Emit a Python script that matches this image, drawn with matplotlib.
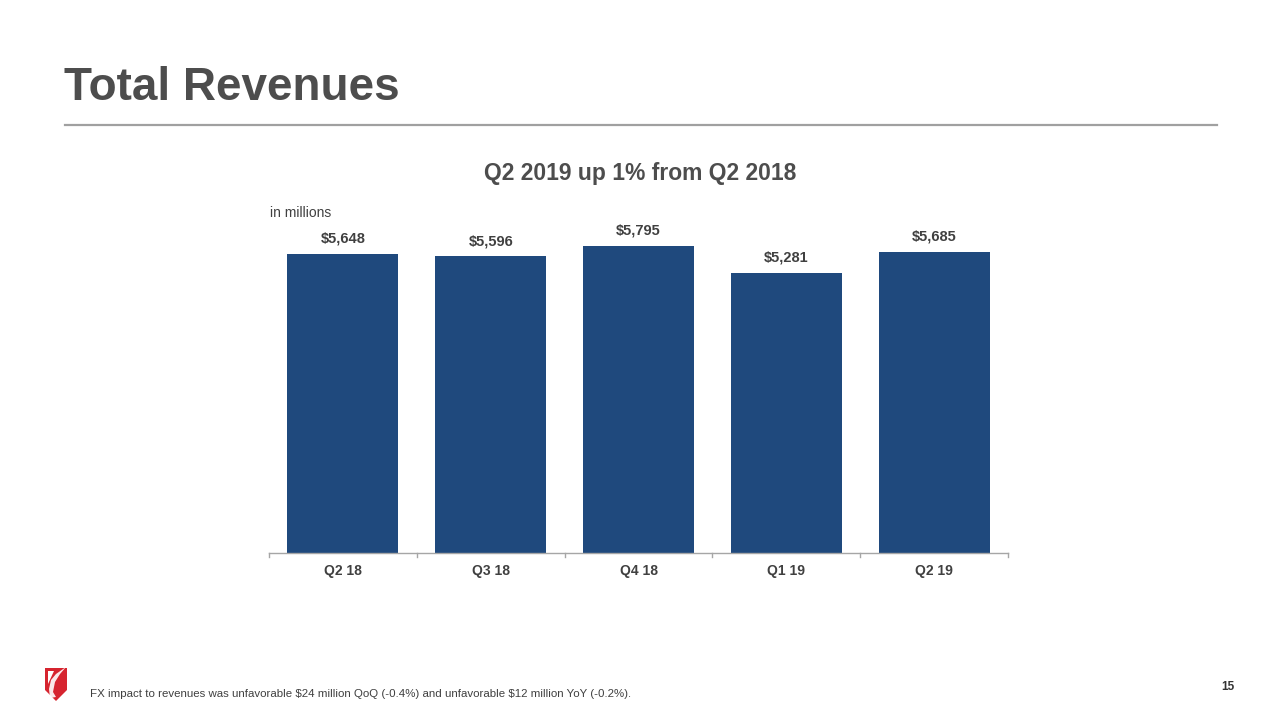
import matplotlib
matplotlib.use("Agg")
import matplotlib.pyplot as plt
from matplotlib.patches import Polygon

FONT = "Liberation Sans"
plt.rcParams['font.family'] = 'sans-serif'
plt.rcParams['font.sans-serif'] = [FONT, 'DejaVu Sans']
plt.rcParams['text.parse_math'] = False

categories = ["Q2 18", "Q3 18", "Q4 18", "Q1 19", "Q2 19"]
revenues = [5648, 5596, 5795, 5281, 5685]
labels = ["$5,648", "$5,596", "$5,795", "$5,281", "$5,685"]

W, H = 1280, 720
fig = plt.figure(figsize=(12.8, 7.2), dpi=100)
fig.patch.set_facecolor("white")

def fx(px):
    return px / W

def fy(py):
    return 1 - py / H

# Title and rule
fig.text(fx(64), fy(100), "Total Revenues", fontsize=33, fontweight="bold",
         family=FONT, color="#4d4d4d", ha="left", va="baseline")
fig.add_artist(plt.Line2D([fx(65), fx(1217)], [fy(125), fy(125)],
                          color="#a0a0a0", linewidth=1.6))

# Subtitle
fig.text(fx(640), fy(180), "Q2 2019 up 1% from Q2 2018", fontsize=16.5,
         fontweight="bold", family=FONT, color="#4d4d4d", ha="center", va="baseline")

# Chart axes
left, right, bottom, top = 269, 1008, 553, 235
ax = fig.add_axes([fx(left), fy(bottom), fx(right - left), (bottom - top) / H])
x = list(range(len(categories)))
bars = ax.bar(x, revenues, width=0.75, color="#1f497d", zorder=2)
ax.set_xlim(-0.5, len(categories) - 0.5)
ax.set_ylim(0, 6000)
for xi, v, lab in zip(x, revenues, labels):
    ax.annotate(lab, (xi, v), xytext=(0, 11), textcoords="offset points",
                ha="center", va="center", fontsize=10.5, fontweight="bold",
                family=FONT, color="#404040")
for s in ["top", "right", "left"]:
    ax.spines[s].set_visible(False)
ax.spines["bottom"].set_color("#a6a6a6")
ax.spines["bottom"].set_linewidth(1)
ax.set_yticks([])
ax.set_xticks(x)
ax.set_xticklabels(categories, fontsize=10, fontweight="bold", family=FONT,
                   color="#404040")
ax.tick_params(axis="x", length=0, pad=8)
# boundary tick marks
for b in [i - 0.5 for i in range(len(categories) + 1)]:
    ax.plot([b, b], [0, -0.012], transform=ax.get_xaxis_transform(),
            color="#a6a6a6", linewidth=1, clip_on=False)
ax.patch.set_alpha(0)

fig.text(fx(270), fy(217), "in millions", fontsize=10, family=FONT,
         color="#404040", ha="left", va="baseline")

# Footer
fig.text(fx(90), fy(697), "FX impact to revenues was unfavorable $24 million QoQ (-0.4%) and unfavorable $12 million YoY (-0.2%).",
         fontsize=8.25, family=FONT, color="#404040", ha="left", va="baseline")
fig.text(fx(1235), fy(690), "15", fontsize=8.5, fontweight="bold", family=FONT,
         color="#333333", ha="right", va="baseline")

# Logo (shield + leaf)
shield = [(45, 668), (67, 668), (67, 690), (56, 701), (45, 690)]
fig.add_artist(Polygon([(fx(a), fy(b)) for a, b in shield], closed=True,
                       facecolor="#d6242f", edgecolor="none"))
inner = [(48, 671), (54, 671), (48, 684)]
fig.add_artist(Polygon([(fx(a), fy(b)) for a, b in inner], closed=True,
                       facecolor="white", edgecolor="none"))
leaf = [(66, 667), (60, 674), (55, 682), (53, 692), (56, 697), (50, 698), (49, 689), (51, 680), (56, 674)]
fig.add_artist(Polygon([(fx(a), fy(b)) for a, b in leaf], closed=True,
                       facecolor="white", edgecolor="none", alpha=0.9))

fig.savefig("out.png", dpi=100)
